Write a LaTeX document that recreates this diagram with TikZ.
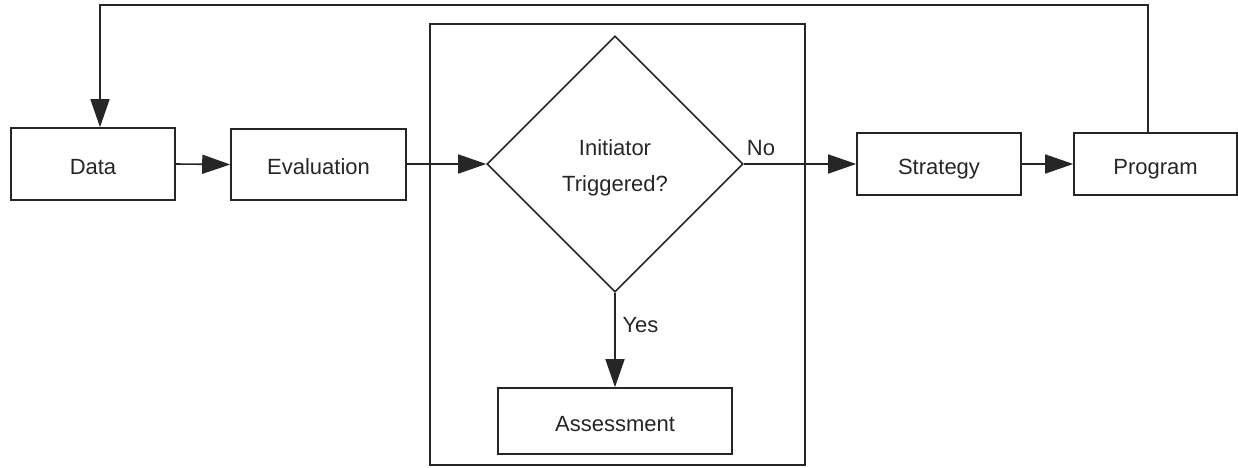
\documentclass[tikz,border=0pt]{standalone}
\usepackage{fontspec}
\setmainfont{Liberation Sans}
\usetikzlibrary{shapes.geometric,arrows.meta}
\begin{document}
\begin{tikzpicture}[x=1pt,y=-1pt,
  ln/.style={draw=black!85, line width=1.6pt},
  box/.style={ln, rectangle, inner sep=0pt, text=black!85, text height=20pt, text depth=0pt, font=\fontsize{22}{26}\selectfont},
  arr/.style={ln, -{Triangle[length=28pt,width=19pt]}},
  lbl/.style={inner sep=0pt, text=black!85, font=\fontsize{22}{26}\selectfont}]
\useasboundingbox (0,0) rectangle (1238,467);
\node[ln, rectangle, minimum width=375pt, minimum height=441pt, inner sep=0pt] (frame) at (617.5,244.5) {};
\node[box, minimum width=164pt, minimum height=72pt] (data) at (93,164) {Data};
\node[box, minimum width=175pt, minimum height=71pt] (eval) at (318.5,164.5) {Evaluation};
\node[box, diamond, aspect=1, minimum width=256pt, minimum height=256pt, align=center, text height=54pt, text depth=0pt, font=\fontsize{22}{36}\selectfont] (dia) at (615,164) {Initiator\\Triggered?};
\node[box, minimum width=164pt, minimum height=62pt] (strat) at (939,164) {Strategy};
\node[box, minimum width=163pt, minimum height=62pt] (prog) at (1155.5,164) {Program};
\node[box, minimum width=234pt, minimum height=66pt] (assess) at (615,421) {Assessment};
\coordinate (c1) at (1148,5);
\coordinate (c2) at (100,5);
\draw[arr] (data.east) -- (eval.west);
\draw[arr] (eval.east |- dia.west) -- (dia.west);
\draw[arr] (dia.east) -- (strat.west);
\draw[arr] (strat.east) -- (prog.west);
\draw[arr] (dia.south) -- (assess.north);
\draw[arr] (c1 |- prog.north) -- (c1) -- (c2) -- (c2 |- data.north);
\node[lbl] (no) at (761,148) {No};
\node[lbl] (yes) at (640.5,325) {Yes};
\end{tikzpicture}
\end{document}
